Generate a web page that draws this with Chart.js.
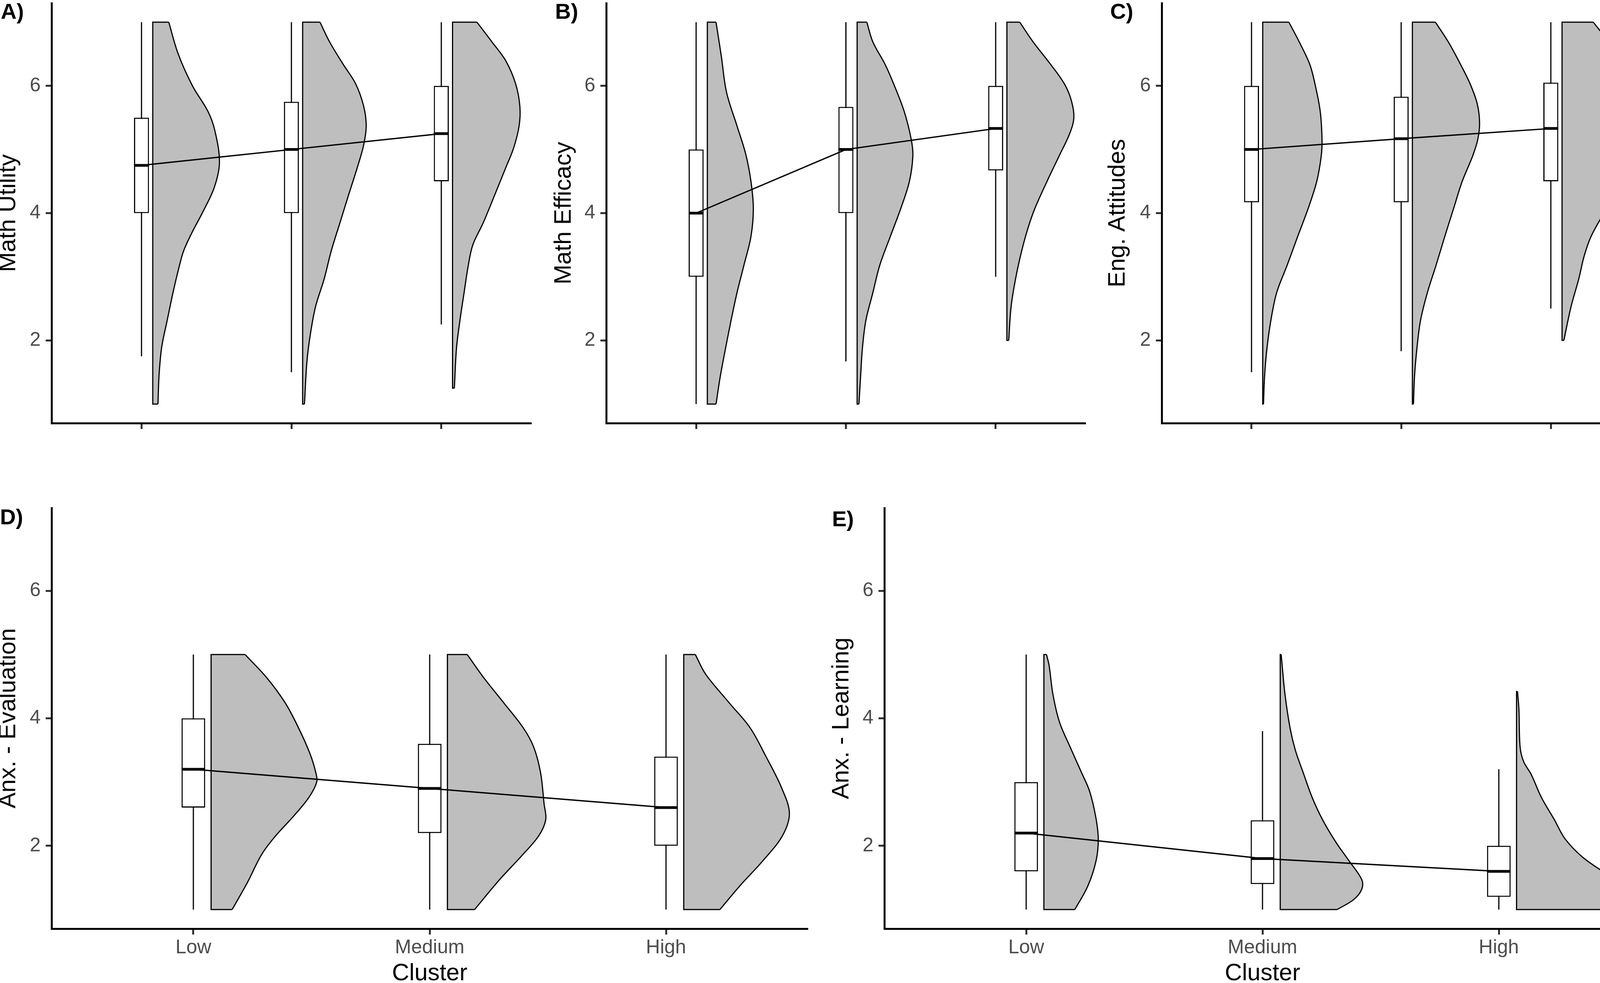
<!DOCTYPE html>
<html>
<head>
<meta charset="utf-8">
<title>Cluster profiles</title>
<script src="https://cdn.jsdelivr.net/npm/chart.js@4.4.1/dist/chart.umd.min.js"></script>
<style>
  html, body { margin: 0; padding: 0; background: #fff; }
  body { width: 4200px; height: 2516px; position: relative; overflow: hidden; font-family: 'Liberation Sans', Arial, sans-serif; }
  .panel { position: absolute; }
  .tag { position: absolute; font-weight: bold; font-size: 56px; line-height: 1; color: #000; }
</style>
</head>
<body>
<script>
// categories and axis ticks
const clusters = ['Low', 'Medium', 'High'];
const yTicks = [2, 4, 6];

// box stats per cluster: [lower whisker, Q1, median, Q3, upper whisker]
const utilityBox = [[1.75, 4, 4.75, 5.5, 7], [1.5, 4, 5, 5.75, 7], [2.25, 4.5, 5.25, 6, 7]];
const efficacyBox = [[1, 3, 4, 5, 7], [1.67, 4, 5, 5.67, 7], [3, 4.67, 5.33, 6, 7]];
const attitudesBox = [[1.5, 4.17, 5, 6, 7], [1.83, 4.17, 5.17, 5.83, 7], [2.5, 4.5, 5.33, 6.05, 7]];
const evaluationBox = [[1, 2.6, 3.2, 4, 5], [1, 2.2, 2.9, 3.6, 5], [1, 2, 2.6, 3.4, 5]];
const learningBox = [[1, 1.6, 2.2, 3, 5], [1, 1.4, 1.8, 2.4, 3.8], [1, 1.2, 1.6, 2, 3.2]];

// half violin outlines per cluster, bottom to top: [score, density width in cluster units]
const utilityViolin = [
  [[1.0, 0.035], [1.45, 0.042], [1.9, 0.06], [2.3, 0.095], [2.75, 0.135], [3.1, 0.17], [3.4, 0.205], [3.7, 0.263], [4.0, 0.33], [4.4, 0.41], [4.8, 0.445], [5.3, 0.414], [5.6, 0.368], [6.0, 0.265], [6.5, 0.17], [7.0, 0.107]],
  [[1.0, 0.012], [1.65, 0.028], [2.09, 0.051], [2.53, 0.086], [2.97, 0.144], [3.4, 0.19], [3.85, 0.249], [4.29, 0.307], [4.72, 0.365], [5.07, 0.407], [5.37, 0.424], [5.68, 0.407], [6.03, 0.354], [6.34, 0.27], [6.69, 0.18], [7.0, 0.116]],
  [[1.25, 0.012], [1.87, 0.026], [2.31, 0.049], [2.75, 0.077], [3.18, 0.105], [3.5, 0.135], [3.85, 0.205], [4.29, 0.282], [4.72, 0.356], [5.02, 0.407], [5.37, 0.444], [5.68, 0.449], [6.03, 0.421], [6.39, 0.356], [6.69, 0.263], [7.0, 0.163]]
];
const efficacyViolin = [
  [[1.0, 0.058], [1.43, 0.086], [1.87, 0.121], [2.31, 0.158], [2.75, 0.198], [3.18, 0.244], [3.63, 0.291], [4.07, 0.307], [4.5, 0.291], [4.93, 0.256], [5.37, 0.198], [5.9, 0.128], [6.47, 0.093], [7.0, 0.058]],
  [[1.0, 0.012], [1.43, 0.023], [1.87, 0.035], [2.31, 0.058], [2.75, 0.105], [3.18, 0.151], [3.63, 0.221], [4.07, 0.291], [4.5, 0.349], [4.9, 0.372], [5.16, 0.361], [5.6, 0.314], [6.03, 0.244], [6.34, 0.186], [6.69, 0.105], [7.0, 0.065]],
  [[2.0, 0.012], [2.53, 0.028], [2.97, 0.058], [3.4, 0.098], [3.76, 0.14], [4.07, 0.186], [4.5, 0.268], [4.9, 0.349], [5.25, 0.419], [5.5, 0.447], [5.77, 0.43], [6.03, 0.384], [6.34, 0.291], [6.69, 0.175], [7.0, 0.086]]
];
const attitudesViolin = [
  [[1.0, 0.005], [1.43, 0.012], [1.87, 0.028], [2.31, 0.054], [2.75, 0.093], [3.18, 0.163], [3.63, 0.233], [4.07, 0.303], [4.5, 0.361], [4.9, 0.391], [5.16, 0.396], [5.6, 0.384], [6.03, 0.349], [6.34, 0.314], [6.69, 0.244], [7.0, 0.175]],
  [[1.0, 0.007], [1.43, 0.014], [1.87, 0.03], [2.31, 0.054], [2.75, 0.1], [3.18, 0.158], [3.63, 0.216], [4.07, 0.275], [4.5, 0.333], [4.9, 0.403], [5.16, 0.437], [5.42, 0.449], [5.72, 0.433], [6.03, 0.386], [6.34, 0.321], [6.69, 0.24], [7.0, 0.154]],
  [[2.0, 0.012], [2.53, 0.06], [2.97, 0.112], [3.32, 0.147], [3.63, 0.193], [4.07, 0.293], [4.5, 0.368], [5.02, 0.419], [5.37, 0.449], [5.68, 0.454], [6.03, 0.433], [6.34, 0.391], [6.69, 0.31], [7.0, 0.209]]
];
const evaluationViolin = [
  [[1.0, 0.089], [1.42, 0.153], [1.87, 0.215], [2.16, 0.274], [2.46, 0.348], [2.76, 0.414], [3.0, 0.447], [3.15, 0.443], [3.45, 0.418], [3.85, 0.37], [4.24, 0.314], [4.63, 0.237], [5.0, 0.144]],
  [[1.0, 0.115], [1.47, 0.221], [1.87, 0.321], [2.16, 0.387], [2.41, 0.416], [2.66, 0.409], [3.15, 0.394], [3.55, 0.365], [3.85, 0.321], [4.24, 0.239], [4.63, 0.155], [5.0, 0.084]],
  [[1.0, 0.153], [1.37, 0.237], [1.77, 0.336], [2.16, 0.418], [2.51, 0.447], [2.91, 0.414], [3.4, 0.348], [3.85, 0.281], [4.24, 0.193], [4.69, 0.093], [5.0, 0.049]]
];
const learningViolin = [
  [[1.0, 0.131], [1.37, 0.186], [1.77, 0.221], [2.11, 0.23], [2.46, 0.219], [2.86, 0.193], [3.15, 0.159], [3.55, 0.111], [3.94, 0.066], [4.38, 0.038], [4.83, 0.022], [5.0, 0.011]],
  [[1.0, 0.241], [1.16, 0.312], [1.32, 0.345], [1.47, 0.345], [1.77, 0.29], [2.06, 0.235], [2.41, 0.179], [2.76, 0.135], [3.15, 0.097], [3.5, 0.064], [3.84, 0.042], [4.38, 0.02], [5.0, 0.004]],
  [[1.0, 0.367], [1.16, 0.44], [1.3, 0.45], [1.5, 0.4], [1.82, 0.28], [2.11, 0.205], [2.41, 0.16], [2.76, 0.105], [3.12, 0.062], [3.32, 0.03], [3.55, 0.015], [4.14, 0.01], [4.42, 0.004]]
];

// geometry (cluster units)
const BOX_HALF = 0.05;
const NUDGE = 0.075;
const GREY = '#BEBEBE';

Chart.defaults.font.family = "'Liberation Sans', Arial, sans-serif";

// frame = [left, top, width, height] of the canvas, plot = [left, top, right, bottom] of the panel
const panels = [
  { tag: 'A)', label: 'Math Utility', box: utilityBox, violin: utilityViolin, frame: [0, 0, 1400, 1250], plot: [132, 8, 1360, 1083], titlePad: 0, tagPos: [2, 1], xLabels: false },
  { tag: 'B)', label: 'Math Efficacy', box: efficacyBox, violin: efficacyViolin, frame: [1400, 0, 1400, 1250], plot: [1552, 8, 2779, 1083], titlePad: 22, tagPos: [1421, 1], xLabels: false },
  { tag: 'C)', label: 'Eng. Attitudes', box: attitudesBox, violin: attitudesViolin, frame: [2800, 0, 1400, 1250], plot: [2974, 8, 4200, 1083], titlePad: 40, tagPos: [2842, 1], xLabels: false },
  { tag: 'D)', label: 'Anx. - Evaluation', box: evaluationBox, violin: evaluationViolin, frame: [0, 1250, 2100, 1266], plot: [132, 1300, 2068, 2377], titlePad: 0, tagPos: [0, 1295], xLabels: true },
  { tag: 'E)', label: 'Anx. - Learning', box: learningBox, violin: learningViolin, frame: [2100, 1250, 2100, 1266], plot: [2264, 1300, 4200, 2377], titlePad: 33, tagPos: [2130, 1300], xLabels: true }
];

function buildDatasets(box, violin) {
  const sets = [];

  // line through the medians
  sets.push({
    type: 'line', data: box.map((b, i) => ({ x: i + 1, y: b[2] })),
    borderColor: '#000', borderWidth: 3.5, pointRadius: 0, tension: 0, order: 0
  });

  // median bars
  const med = [];
  box.forEach((b, i) => {
    med.push({ x: i + 1 - BOX_HALF, y: b[2] }, { x: i + 1 + BOX_HALF, y: b[2] }, { x: i + 1.5, y: null });
  });
  sets.push({ type: 'line', data: med, borderColor: '#000', borderWidth: 7, pointRadius: 0, tension: 0, order: 1 });

  // boxes
  sets.push({
    type: 'bar', data: box.map((b, i) => ({ x: i + 1, y: [b[1], b[3]] })),
    backgroundColor: '#fff', borderColor: '#000', borderWidth: 3, borderSkipped: false,
    barPercentage: BOX_HALF * 2, categoryPercentage: 1, order: 2
  });

  // whiskers
  const wh = [];
  box.forEach((b, i) => {
    wh.push({ x: i + 1, y: b[0] }, { x: i + 1, y: b[4] }, { x: i + 1.5, y: null });
  });
  sets.push({ type: 'line', data: wh, borderColor: '#000', borderWidth: 3, pointRadius: 0, tension: 0, order: 3 });

  // straight edges of the half violins
  const edges = [];
  violin.forEach((v, i) => {
    const base = i + 1 + NUDGE;
    const bot = v[0], top = v[v.length - 1];
    edges.push({ x: base + bot[1], y: bot[0] }, { x: base, y: bot[0] }, { x: base, y: top[0] },
               { x: base + top[1], y: top[0] }, { x: base, y: null });
  });
  sets.push({ type: 'line', data: edges, borderColor: '#000', borderWidth: 3, pointRadius: 0, tension: 0, order: 4 });

  // curved side of the half violins, filled back to the flat edge
  violin.forEach((v, i) => {
    const base = i + 1 + NUDGE;
    const pts = v.slice().reverse().map(p => ({ x: base + p[1], y: p[0] }));
    sets.push({
      type: 'line', indexAxis: 'y', data: pts, fill: { value: base },
      backgroundColor: GREY, borderColor: '#000', borderWidth: 3, borderJoinStyle: 'round',
      pointRadius: 0, tension: 0.35, order: 5
    });
  });

  return sets;
}

panels.forEach(p => {
  const [fl, ft, fw, fh] = p.frame;
  const [pl, pt, pr, pb] = p.plot;

  const wrap = document.createElement('div');
  wrap.className = 'panel';
  wrap.style.left = fl + 'px';
  wrap.style.top = ft + 'px';
  wrap.style.width = fw + 'px';
  wrap.style.height = fh + 'px';
  const canvas = document.createElement('canvas');
  wrap.appendChild(canvas);
  document.body.appendChild(wrap);

  const tag = document.createElement('div');
  tag.className = 'tag';
  tag.textContent = p.tag;
  tag.style.left = p.tagPos[0] + 'px';
  tag.style.top = p.tagPos[1] + 'px';
  document.body.appendChild(tag);

  new Chart(canvas, {
    type: 'line',
    data: { datasets: buildDatasets(p.box, p.violin) },
    options: {
      responsive: true,
      maintainAspectRatio: false,
      devicePixelRatio: 1,
      animation: false,
      events: [],
      layout: { autoPadding: false, padding: { left: 0, top: pt - ft, right: fl + fw - pr, bottom: 0 } },
      plugins: { legend: { display: false }, tooltip: { enabled: false } },
      scales: {
        x: {
          type: 'linear', min: 0.4, max: 3.6, offset: false,
          afterBuildTicks: axis => { axis.ticks = [1, 2, 3].map(v => ({ value: v })); },
          afterFit: axis => { axis.height = ft + fh - pb; axis.paddingLeft = 0; axis.paddingRight = 0; },
          ticks: {
            autoSkip: false, maxRotation: 0, padding: 4, color: '#4D4D4D', font: { size: 50 },
            callback: v => p.xLabels ? clusters[Math.round(v) - 1] : ''
          },
          grid: { display: true, offset: false, drawOnChartArea: false, drawTicks: true, tickLength: 15, tickWidth: 5, tickColor: '#333333', color: '#333333' },
          border: { display: true, color: '#000', width: 5 },
          title: {
            display: p.xLabels, text: 'Cluster', color: '#000',
            font: { size: 61, lineHeight: 0.74 }, padding: { top: 0, bottom: 1 }
          }
        },
        y: {
          type: 'linear', min: 0.7, max: 7.3,
          afterBuildTicks: axis => { axis.ticks = yTicks.map(v => ({ value: v })); },
          afterFit: axis => { axis.width = pl - fl; axis.paddingTop = 0; axis.paddingBottom = 0; },
          ticks: { padding: 13, color: '#4D4D4D', font: { size: 50 } },
          grid: { display: true, drawOnChartArea: false, drawTicks: true, tickLength: 15, tickWidth: 5, tickColor: '#333333', color: '#333333' },
          border: { display: true, color: '#000', width: 5 },
          title: {
            display: true, text: p.label, color: '#000',
            font: { size: 61, lineHeight: 0.74 }, padding: { top: p.titlePad, bottom: 0 }
          }
        }
      }
    }
  });
});
</script>
</body>
</html>
